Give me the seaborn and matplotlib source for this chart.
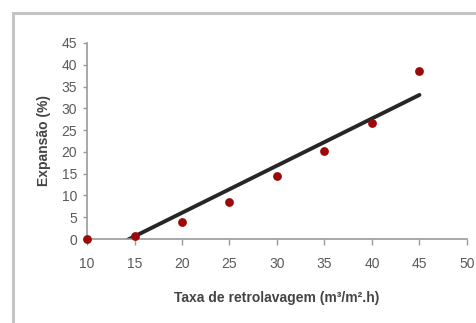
import numpy as np
import pandas as pd
import seaborn as sns
import matplotlib
matplotlib.use("Agg")
import matplotlib.pyplot as plt
from matplotlib.patches import Rectangle

# Data
taxa = [10, 15, 20, 25, 30, 35, 40, 45]
expansao = [0.0, 0.8, 3.8, 8.5, 14.5, 20.3, 26.7, 38.5]
x_ticks = [10, 15, 20, 25, 30, 35, 40, 45, 50]
y_ticks = [0, 5, 10, 15, 20, 25, 30, 35, 40, 45]
x_label = "Taxa de retrolavagem (m³/m².h)"
y_label = "Expansão (%)"

df = pd.DataFrame({"taxa": taxa, "expansao": expansao})

sns.set_style("white")
plt.rcParams["font.family"] = ["Liberation Sans Narrow", "Liberation Sans", "DejaVu Sans"]

fig = plt.figure(figsize=(4.77, 3.23), dpi=100)
ax = fig.add_axes([0.1824, 0.260, 0.7966, 0.607])

# outer border of the chart area
fig.patches.append(Rectangle((13 / 477, -0.2), 1.2, 1 - 13 / 323 + 0.2,
                             transform=fig.transFigure, fill=False,
                             edgecolor="#c4c4c4", linewidth=2.2, zorder=0))

# linear trend line (least squares over all points), clipped by axes at y=0
sns.regplot(data=df, x="taxa", y="expansao", ax=ax, ci=None, scatter=False,
            truncate=True, line_kws=dict(color="#262626", linewidth=2.8, zorder=2))
sns.scatterplot(data=df, x="taxa", y="expansao", ax=ax, color="#9b0a0a",
                s=40, edgecolor="#9b0a0a", linewidth=0, zorder=3, clip_on=False)

ax.set_xlim(10, 50)
ax.set_ylim(0, 45)
ax.set_xticks(x_ticks)
ax.set_yticks(y_ticks)
ax.set_xticklabels([str(v) for v in x_ticks])
ax.set_yticklabels([str(v) for v in y_ticks])

for s in ["top", "right"]:
    ax.spines[s].set_visible(False)
for s in ["left", "bottom"]:
    ax.spines[s].set_color("#9a9a9a")
    ax.spines[s].set_linewidth(1.2)

ax.tick_params(axis="x", direction="out", length=4, width=1, color="#9a9a9a",
               pad=9, labelsize=10, labelcolor="#5a5a5a")
ax.tick_params(axis="y", direction="out", length=3, width=1, color="#9a9a9a",
               pad=4, labelsize=10, labelcolor="#5a5a5a")
ax.tick_params(bottom=True, left=True)

ax.set_xlabel(x_label, fontsize=10, fontweight="bold", color="#444444", labelpad=14)
ax.set_ylabel(y_label, fontsize=10, fontweight="bold", color="#444444", labelpad=8)

fig.savefig("out.png", dpi=100, facecolor="white")
